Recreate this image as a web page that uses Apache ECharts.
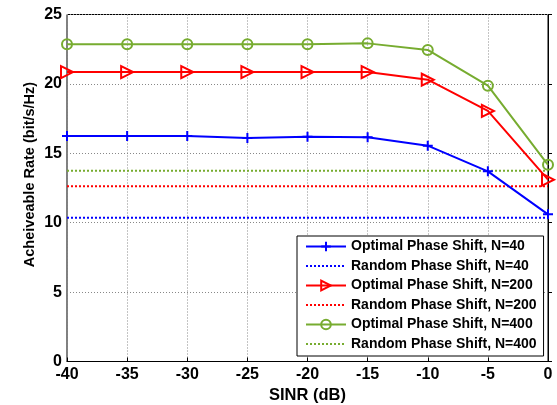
<!DOCTYPE html>
<html><head><meta charset="utf-8">
<script src="https://cdn.jsdelivr.net/npm/echarts@6/dist/echarts.min.js"></script>
<style>html,body{margin:0;padding:0;background:#fff}#c{width:557px;height:405px}</style>
</head><body><div id="c"></div>
<script>
const sinr = [-40, -35, -30, -25, -20, -15, -10, -5, 0];
const optN40 = [16.25, 16.25, 16.25, 16.1, 16.2, 16.15, 15.55, 13.7, 10.6];
const randN40 = [10.35, 10.35, 10.35, 10.35, 10.35, 10.35, 10.35, 10.35, 10.35];
const optN200 = [20.85, 20.85, 20.85, 20.85, 20.85, 20.85, 20.3, 18.05, 13.1];
const randN200 = [12.62, 12.62, 12.62, 12.62, 12.62, 12.62, 12.62, 12.62, 12.62];
const optN400 = [22.85, 22.85, 22.85, 22.85, 22.85, 22.92, 22.45, 19.87, 14.17];
const randN400 = [13.74, 13.74, 13.74, 13.74, 13.74, 13.74, 13.74, 13.74, 13.74];
const names = ['Optimal Phase Shift, N=40','Random Phase Shift, N=40','Optimal Phase Shift, N=200','Random Phase Shift, N=200','Optimal Phase Shift, N=400','Random Phase Shift, N=400'];
const xTitle = 'SINR (dB)';
const yTitle = 'Acheiveable Rate (bit/s/Hz)';
const BLUE = '#0000ff', RED = '#ff0000', GREEN = '#77ac30';
const pair = arr => sinr.map((x, i) => [x, arr[i]]);
const font = 'Arial, "Liberation Sans", Helvetica, sans-serif';

const chart = echarts.init(document.getElementById('c'));
function opt(name, data, color, symbol, size) {
  return { name, type: 'line', data: pair(data), symbol, symbolSize: size, showSymbol: true,
    lineStyle: { color, width: 2 },
    itemStyle: { color: 'rgba(0,0,0,0)', borderColor: color, borderWidth: 2 },
    emphasis: { disabled: true }, animation: false, z: 3 };
}
function rnd(name, data, color) {
  return { name, type: 'line', data: pair(data), symbol: 'none', showSymbol: false,
    lineStyle: { color, width: 2, type: [2, 2] },
    itemStyle: { color: 'rgba(0,0,0,0)', borderWidth: 0 },
    emphasis: { disabled: true }, animation: false, z: 2 };
}
chart.setOption({
  backgroundColor: '#fff',
  animation: false,
  grid: { left: 67, right: 9, top: 14.5, bottom: 43.5, outerBoundsMode: 'none', containLabel: false,
    show: true, borderColor: '#000', borderWidth: 1, backgroundColor: '#fff' },
  xAxis: {
    type: 'value', min: -40, max: 0, interval: 5,
    name: xTitle, nameLocation: 'middle', nameGap: 22,
    nameTextStyle: { fontFamily: font, fontWeight: 'bold', fontSize: 16.5, color: '#000' },
    axisLine: { show: true, lineStyle: { color: '#000', width: 1 } },
    axisTick: { show: true, inside: true, length: 4, lineStyle: { color: '#000' } },
    axisLabel: { fontFamily: font, fontWeight: 'bold', fontSize: 16, color: '#000', margin: 5 },
    splitLine: { show: true, lineStyle: { color: '#888', type: [1, 2], width: 1 } }
  },
  yAxis: {
    type: 'value', min: 0, max: 25, interval: 5,
    axisLine: { show: true, lineStyle: { color: '#000', width: 1 } },
    axisTick: { show: true, inside: true, length: 4, lineStyle: { color: '#000' } },
    axisLabel: { fontFamily: font, fontWeight: 'bold', fontSize: 16, color: '#000', margin: 5 },
    splitLine: { show: true, lineStyle: { color: '#888', type: [1, 2], width: 1 } }
  },
  graphic: [{
    type: 'text', x: 29.5, y: 174.5, rotation: Math.PI / 2,
    style: { text: yTitle, fontFamily: font, fontWeight: 'bold', fontSize: 14.5, fill: '#000', align: 'center', verticalAlign: 'middle' }
  }],
  legend: {
    orient: 'vertical', left: 297, top: 236,
    backgroundColor: '#fff', borderColor: '#000', borderWidth: 1,
    padding: [3.5, 7, 5, 8], itemGap: 5.5, itemWidth: 40, itemHeight: 12,
    textStyle: { fontFamily: font, fontWeight: 'bold', fontSize: 14, color: '#000', lineHeight: 14 },
    data: names, selectedMode: false
  },
  series: [
    opt(names[0], optN40, BLUE, 'path://M5,0 L5,10 M0,5 L10,5', 10),
    rnd(names[1], randN40, BLUE),
    opt(names[2], optN200, RED, 'path://M0,0 L10,5 L0,10 Z', 12),
    rnd(names[3], randN200, RED),
    opt(names[4], optN400, GREEN, 'circle', 10),
    rnd(names[5], randN400, GREEN)
  ]
});
</script></body></html>
